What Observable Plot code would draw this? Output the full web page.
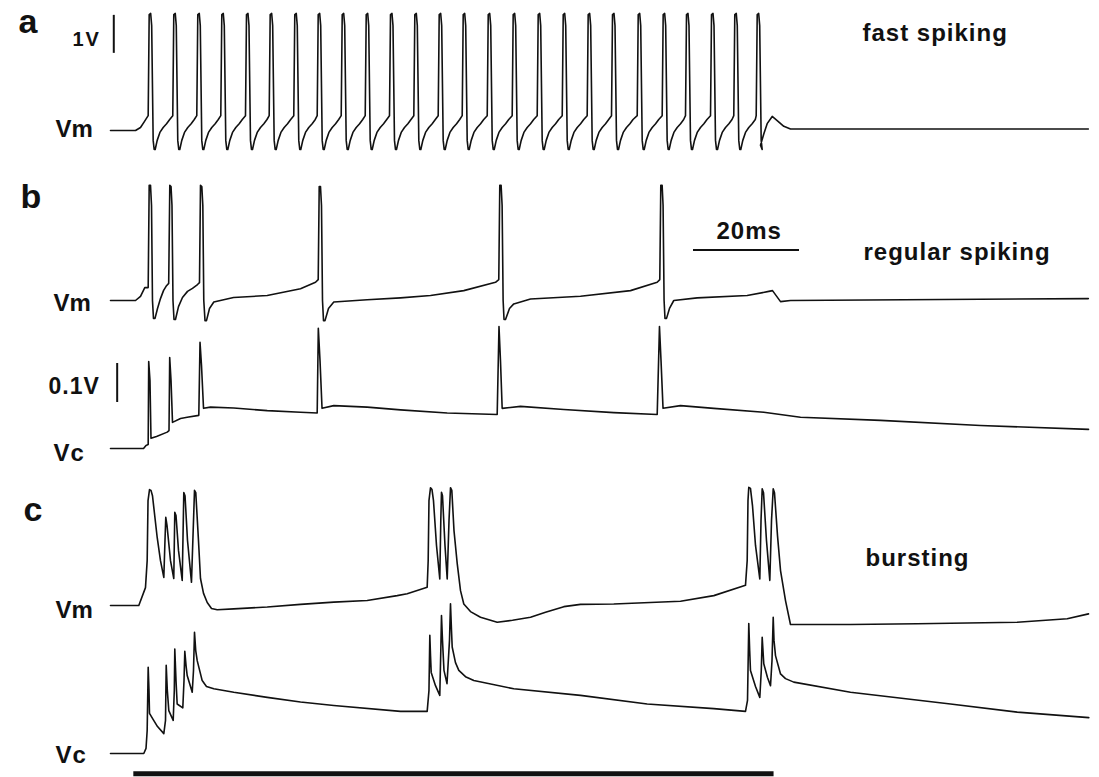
<!DOCTYPE html>
<html>
<head>
<meta charset="utf-8">
<script src="https://cdn.jsdelivr.net/npm/d3@7"></script>
<script src="https://cdn.jsdelivr.net/npm/@observablehq/plot@0.6"></script>
<style>
  html, body { margin: 0; padding: 0; background: #fff; }
  #fig { position: relative; width: 1099px; height: 777px; background: #fff; }
  #fig svg { position: absolute; left: 0; top: 0; }
</style>
</head>
<body>
<div id="fig"></div>
<script>
// ---------- DATA (time in ms, voltage in V, relative to resting level) ----------

// (a) fast spiking: spike onset times and one read spike waveform [dt ms, V]
const fastSpikeTimes = [7.11, 11.75, 16.28, 20.81, 25.47, 29.94, 34.58, 39.0, 43.53, 48.06,
  52.64, 57.23, 61.83, 66.36, 71.08, 75.79, 80.51, 85.23, 89.94, 94.53,
  99.38, 104.09, 108.49, 113.21, 117.6, 121.83];
const fastSpikeShape = [[0, 0.39], [0.19, 3.05], [0.47, 3.08], [0.66, 2.76], [0.94, -0.26],
  [1.13, -0.5], [1.32, -0.5], [1.7, -0.26], [2.21, -0.05], [2.83, 0.08], [3.47, 0.18], [4.06, 0.29]];
const fastVmBefore = [[0, 0], [4.72, 0], [5.66, 0.08], [6.42, 0.24]];
const fastVmAfter = [[122.64, -0.39], [123.26, -0.09], [123.9, 0.18], [124.85, 0.37], [125.79, 0.26],
  [127.04, 0.11], [128.3, 0.04], [184.5, 0.04]];

// (b) regular spiking, membrane potential Vm
const regularVm = [[0, 0], [4.72, 0], [5.66, 0.11], [6.47, 0.34],
  [7.11, 0.34], [7.3, 3.03], [7.55, 3.03], [7.74, 2.5], [7.92, 0], [8.11, -0.47], [8.4, -0.47], [8.87, -0.21], [9.43, 0.05], [10.0, 0.26], [10.57, 0.39],
  [10.98, 0.45], [11.19, 3.03], [11.42, 3.0], [11.6, 2.5], [11.79, 0], [11.98, -0.5], [12.26, -0.5], [12.83, -0.16], [13.58, 0.08], [14.53, 0.24], [15.47, 0.32], [16.42, 0.42],
  [16.79, 0.47], [16.98, 3.03], [17.23, 3.0], [17.42, 2.5], [17.6, 0], [17.83, -0.53], [18.11, -0.53], [18.68, -0.21], [19.49, -0.04], [23.21, 0.08], [29.57, 0.13], [35.85, 0.31], [38.68, 0.48],
  [39.19, 0.55], [39.38, 3.0], [39.62, 3.0], [39.81, 2.5], [40.0, 0], [40.19, -0.53], [40.47, -0.53], [41.13, -0.21], [42.13, -0.04], [48.43, 0.02], [54.72, 0.07], [60.38, 0.13], [66.66, 0.26], [72.64, 0.48],
  [73.26, 0.55], [73.45, 3.03], [73.7, 3.03], [73.89, 2.5], [74.08, 0], [74.25, -0.5], [74.53, -0.5], [75.28, -0.21], [76.09, -0.09], [79.25, 0.04], [88.68, 0.11], [98.11, 0.26], [103.15, 0.48],
  [103.64, 0.55], [103.83, 3.03], [104.08, 3.03], [104.26, 2.5], [104.45, 0], [104.62, -0.47], [104.91, -0.47], [105.47, -0.21], [106.28, 0], [110.7, 0.07], [120.13, 0.13], [124.21, 0.24], [124.91, 0.26],
  [126.42, -0.03], [128.3, 0], [184.5, 0.05]];

// (b) regular spiking, Vc
const regularVc = [[0, 0], [6.23, 0], [6.7, 0.008], [7.11, 0.01], [7.21, 0.223], [7.45, 0.174], [7.64, 0.026], [8.68, 0.031], [10.7, 0.042],
  [11.04, 0.046], [11.17, 0.233], [11.42, 0.174], [11.7, 0.067], [13.21, 0.077], [14.47, 0.08], [16.66, 0.085],
  [16.89, 0.272], [17.17, 0.213], [17.55, 0.103], [18.87, 0.106], [23.26, 0.104], [29.57, 0.097], [35.85, 0.093], [39.0, 0.091],
  [39.21, 0.308], [39.53, 0.226], [39.91, 0.103], [42.13, 0.11], [48.43, 0.106], [54.72, 0.099], [63.53, 0.091], [72.96, 0.087],
  [73.3, 0.313], [73.58, 0.226], [73.9, 0.103], [77.36, 0.108], [85.53, 0.1], [94.96, 0.092], [103.15, 0.087],
  [103.58, 0.313], [103.87, 0.226], [104.25, 0.103], [107.55, 0.11], [113.83, 0.103], [123.26, 0.093], [130.19, 0.08],
  [145.28, 0.072], [164.15, 0.059], [184.53, 0.049]];

// (c) bursting, Vm
const burstVm = [[0, 0], [5.34, 0], [6.6, 0.47], [6.92, 1.18], [7.08, 2.76], [7.36, 3.05], [7.64, 3.03], [7.92, 2.89], [8.81, 1.79], [9.43, 1.18], [10.06, 0.74],
  [10.28, 1.71], [10.43, 2.32], [10.66, 2.11], [11.32, 1.18], [11.94, 0.71],
  [12.13, 2.45], [12.36, 2.37], [12.83, 1.45], [13.53, 0.66],
  [13.83, 2.97], [14.06, 2.89], [14.53, 1.71], [15.28, 0.61],
  [15.85, 3.03], [16.09, 2.97], [16.6, 1.71], [16.98, 0.71], [17.55, 0.32], [18.25, 0.08], [19.06, -0.08], [20.13, -0.11],
  [23.26, -0.09], [29.57, -0.04], [35.85, 0.03], [42.13, 0.09], [48.43, 0.13], [54.09, 0.26], [55.98, 0.31], [59.75, 0.48],
  [59.94, 1.18], [60.09, 2.76], [60.38, 3.1], [60.66, 3.05], [60.94, 2.76], [61.51, 1.58], [62.13, 0.7],
  [62.32, 2.24], [62.45, 2.98], [62.64, 2.89], [63.11, 1.58], [63.53, 0.7],
  [63.87, 2.24], [64.15, 3.1], [64.4, 3.03], [64.81, 1.97], [65.42, 1.1], [66.04, 0.39], [66.66, 0.04], [67.92, -0.16], [69.81, -0.31],
  [72.96, -0.44], [75.85, -0.39], [79.25, -0.31], [82.08, -0.18], [85.53, -0.03], [88.68, 0.03], [94.96, 0.04], [107.55, 0.11], [113.83, 0.26], [119.81, 0.53],
  [120.13, 1.18], [120.28, 2.76], [120.43, 3.11], [120.75, 3.08], [121.13, 2.63], [121.7, 1.58], [122.51, 0.7],
  [122.74, 2.24], [122.96, 3.07], [123.21, 2.97], [123.77, 1.71], [124.4, 0.66],
  [124.72, 2.24], [125.04, 3.07], [125.28, 2.97], [125.85, 1.84], [126.42, 0.92], [127.36, 0.13], [128.3, -0.5],
  [139.62, -0.5], [152.21, -0.48], [171.08, -0.44], [180.51, -0.35], [184.53, -0.22]];

// (c) bursting, Vc
const burstVc = [[0, 0], [6.28, 0], [6.7, 0.013], [6.92, 0.059], [7.11, 0.221], [7.26, 0.162], [7.36, 0.103], [7.92, 0.09], [8.87, 0.069], [10.06, 0.051],
  [10.38, 0.085], [10.51, 0.226], [10.72, 0.162], [11.0, 0.11], [11.83, 0.085],
  [12.04, 0.162], [12.13, 0.268], [12.36, 0.187], [12.58, 0.127], [13.64, 0.117],
  [13.87, 0.187], [14.02, 0.262], [14.25, 0.226], [14.47, 0.2], [15.42, 0.157],
  [15.66, 0.213], [15.85, 0.311], [16.08, 0.264], [16.36, 0.238], [17.3, 0.187], [18.11, 0.172], [19.49, 0.166],
  [23.26, 0.157], [29.57, 0.144], [35.85, 0.132], [42.13, 0.123], [54.72, 0.108], [59.75, 0.108],
  [60.09, 0.162], [60.25, 0.303], [60.38, 0.251], [60.51, 0.208], [61.32, 0.174], [62.13, 0.149],
  [62.32, 0.264], [62.45, 0.354], [62.64, 0.29], [62.92, 0.213], [63.49, 0.179],
  [63.96, 0.29], [64.15, 0.384], [64.34, 0.315], [64.47, 0.273], [65.09, 0.233], [65.72, 0.213], [66.98, 0.197], [68.55, 0.187],
  [76.09, 0.166], [88.68, 0.149], [101.26, 0.127], [113.83, 0.115], [119.81, 0.108],
  [120.19, 0.136], [120.43, 0.333], [120.6, 0.264], [120.75, 0.213], [121.7, 0.172], [122.51, 0.144],
  [122.79, 0.213], [122.96, 0.298], [123.11, 0.264], [123.26, 0.23], [123.96, 0.195], [124.53, 0.174],
  [124.81, 0.238], [125.04, 0.349], [125.19, 0.29], [125.47, 0.251], [126.42, 0.204], [127.36, 0.192], [128.92, 0.183],
  [139.62, 0.157], [158.49, 0.127], [171.08, 0.106], [184.58, 0.092]];

// stimulus (current step) in ms
const stimulusOn = [4.4, 125.2];
// scale bars
const scaleVoltVm = [2.03, 3.03];     // 1 V
const scaleVoltVc = [0.118, 0.218];   // 0.1 V
const scaleTime = [110, 130];         // 20 ms

// labels
const panelLetters = ["a", "b", "c"];
const panelTitles = ["fast spiking", "regular spiking", "bursting"];

// ---------- LAYOUT ----------
const W = 1099, H = 777;
const X0 = 110, PX_PER_MS = 5.3, TMAX = 185;
const INK = "#111";
const FONT = "'Liberation Sans', Arial, Helvetica, sans-serif";

// build fast-spiking trace from read spike times and read waveform
const fastVm = [...fastVmBefore];
fastSpikeTimes.forEach((s, i) => {
  const next = fastSpikeTimes[i + 1];
  for (const [dt, v] of fastSpikeShape) {
    if (next === undefined ? dt <= 1.2 : s + dt < next) fastVm.push([s + dt, v]);
  }
});
fastVm.push(...fastVmAfter);

const toRows = arr => arr.map(([t, v]) => ({t, v}));

const fig = document.getElementById("fig");

function tracePlot(data, base, gain, extra = []) {
  const svg = Plot.plot({
    width: W, height: H, margin: 0,
    style: {background: "transparent", overflow: "visible"},
    x: {domain: [0, TMAX], range: [X0, X0 + TMAX * PX_PER_MS], axis: null},
    y: {domain: [0, 1], range: [base, base - gain], axis: null},
    marks: [
      Plot.line(toRows(data), {x: "t", y: "v", stroke: INK, strokeWidth: 1.6, strokeLinejoin: "round"}),
      ...extra
    ]
  });
  fig.appendChild(svg);
}

tracePlot(fastVm, 130, 38, [
  Plot.ruleX([0.62], {y1: scaleVoltVm[0], y2: scaleVoltVm[1], stroke: INK, strokeWidth: 2})
]);
tracePlot(regularVm, 300, 38, [
  Plot.ruleY([1.33], {x1: scaleTime[0], x2: scaleTime[1], stroke: INK, strokeWidth: 2})
]);
tracePlot(regularVc, 448, 390, [
  Plot.ruleX([1.26], {y1: scaleVoltVc[0], y2: scaleVoltVc[1], stroke: INK, strokeWidth: 2})
]);
tracePlot(burstVm, 605, 38);
tracePlot(burstVc, 753, 390, [
  Plot.ruleY([-0.052], {x1: stimulusOn[0], x2: stimulusOn[1], stroke: INK, strokeWidth: 5})
]);

// text labels (pixel positions of text baselines)
const labels = [
  {text: panelLetters[0], x: 18, y: 32, size: 34, ls: 0},
  {text: panelLetters[1], x: 20, y: 207, size: 34, ls: 0},
  {text: panelLetters[2], x: 23, y: 520, size: 34, ls: 0},
  {text: "1V", x: 72, y: 45, size: 20, ls: 2},
  {text: "Vm", x: 55, y: 136, size: 24, ls: 0},
  {text: "Vm", x: 53, y: 310, size: 24, ls: 0},
  {text: "0.1V", x: 48, y: 393, size: 23, ls: 1},
  {text: "Vc", x: 53, y: 460, size: 24, ls: 1},
  {text: "Vm", x: 55, y: 617, size: 24, ls: 0},
  {text: "Vc", x: 55, y: 762, size: 24, ls: 1},
  {text: "20ms", x: 716, y: 238, size: 24, ls: 1},
  {text: panelTitles[0], x: 862, y: 40, size: 24, ls: 1},
  {text: panelTitles[1], x: 863, y: 259, size: 24, ls: 1},
  {text: panelTitles[2], x: 865, y: 565, size: 24, ls: 1}
];
const labelSvg = Plot.plot({
  width: W, height: H, margin: 0,
  style: {background: "transparent", overflow: "visible"},
  x: {domain: [0, W], range: [0, W], axis: null},
  y: {domain: [0, H], range: [0, H], axis: null},
  marks: [
    Plot.text(labels, {
      x: "x", y: d => d.y - 0.32 * d.size, text: "text", fontSize: "size",
      textAnchor: "start", lineAnchor: "middle", fill: INK,
      fontWeight: "bold", fontFamily: FONT
    })
  ]
});
labelSvg.querySelectorAll("text").forEach((el, i) => {
  const d = labels.find(l => l.text === el.textContent);
  if (d && d.ls) el.style.letterSpacing = d.ls + "px";
});
fig.appendChild(labelSvg);
</script>
</body>
</html>
